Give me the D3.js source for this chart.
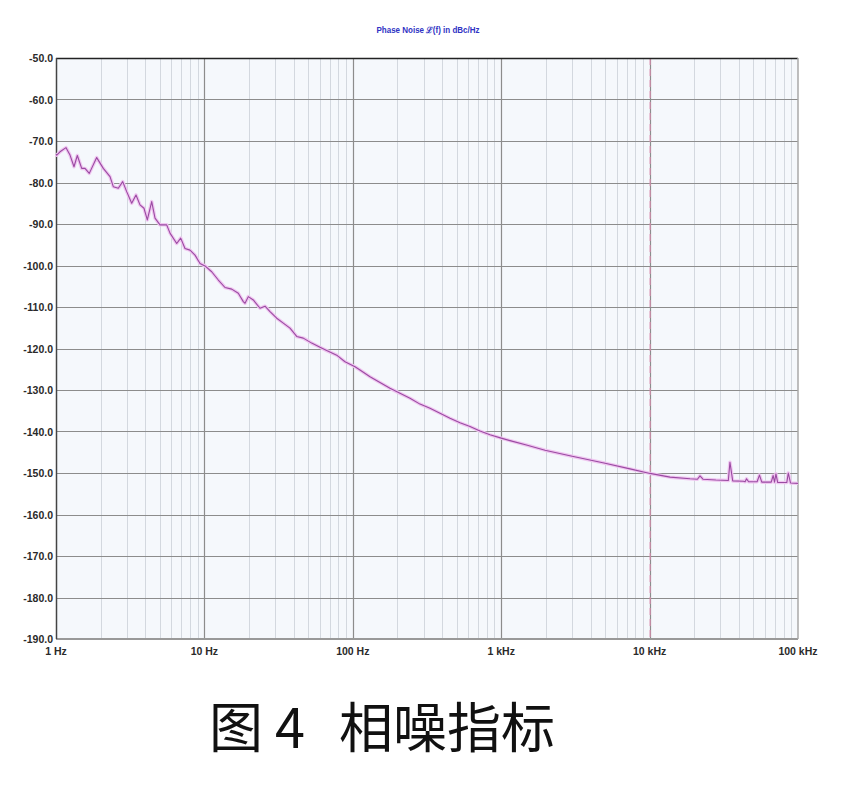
<!DOCTYPE html>
<html lang="zh">
<head>
    <meta charset="UTF-8">
    <title>相噪指标</title>
    <style>
        body {
            margin: 0;
            background-color: #fff;
        }
        svg {
            display: block;
        }
        .tick-y, .tick-x {
            font-family: "Liberation Sans Narrow", "Liberation Sans", Arial, sans-serif;
            font-size: 10.5px;
            font-weight: bold;
            fill: #2a2a2a;
        }
        .caption {
            font-family: "Noto Sans CJK SC", sans-serif;
            font-size: 54px;
            fill: #111;
        }
    </style>
</head>
<body>

<script src="https://d3js.org/d3.v7.min.js"></script>

<script>
    // offset frequency (Hz) and single sideband phase noise (dBc/Hz)
    var freqHz = [
        1.00, 1.011, 1.064, 1.168, 1.243, 1.322, 1.392, 1.490, 1.568, 1.676,
        1.880, 2.083, 2.312, 2.433, 2.630, 2.815, 2.995, 3.237, 3.460, 3.681,
        3.917, 4.124, 4.415, 4.647, 5.022, 5.57, 5.865, 6.507, 6.923, 7.401,
        7.998, 8.645, 9.342, 10.09, 11.20, 12.41, 13.77, 15.28, 16.92, 18.29,
        18.78, 19.76, 21.36, 23.70, 25.61, 27.68, 30.71, 34.01, 37.74, 41.88,
        46.39, 52.84, 60.12, 66.71, 77.89, 88.6, 103.5, 111.8, 130.6, 152.5,
        178.1, 208.0, 242.9, 283.7, 331.3, 386.9, 451.9, 527.8, 616.4, 719.6,
        840.5, 1000, 1146, 1500, 1973, 2954, 4928, 7378, 10060, 13728,
        18720, 21000, 21860, 22890, 28000, 33920, 34790, 36310, 42800, 44000,
        45000, 46500, 53000, 55000, 57000, 66000, 68000, 69500, 71000, 73000,
        84000, 86000, 89000, 100000
    ];

    var noiseDb = [
        -73.2, -73.4, -72.6, -71.6, -73.4, -76.2, -73.5, -76.6, -76.6, -77.8,
        -74.0, -76.6, -78.6, -81.0, -81.4, -79.8, -82.2, -85.0, -83.0, -85.4,
        -86.2, -89.0, -84.6, -88.6, -90.2, -90.2, -92.2, -94.7, -93.4, -95.9,
        -96.3, -97.5, -99.5, -100.1, -101.5, -103.5, -105.3, -105.7, -106.7, -108.7,
        -109.1, -107.5, -108.3, -110.3, -109.8, -111.1, -112.7, -113.9, -115.1, -117.1,
        -117.5, -118.7, -119.7, -120.5, -121.6, -123.2, -124.4, -125.2, -126.8, -128.2,
        -129.6, -130.8, -132.0, -133.4, -134.4, -135.6, -136.8, -137.9, -138.8, -139.9,
        -140.8, -141.6, -142.2, -143.3, -144.5, -145.9, -147.6, -149.0, -150.1, -151.0,
        -151.4, -151.5, -150.7, -151.5, -151.7, -151.8, -147.4, -151.9, -152.0, -152.1,
        -151.4, -152.1, -152.1, -150.5, -152.2, -152.2, -150.6, -152.2, -150.2, -152.3,
        -152.3, -150.0, -152.4, -152.5
    ];

    var yTicks = [-50, -60, -70, -80, -90, -100, -110, -120, -130, -140, -150, -160, -170, -180, -190];
    var xTicks = [1, 10, 100, 1000, 10000, 100000];
    var xTickLabels = ["1 Hz", "10 Hz", "100 Hz", "1 kHz", "10 kHz", "100 kHz"];
    var markerHz = 10000;

    var W = 863, H = 799;
    var pLeft = 56, pRight = 798, pTop = 58, pBottom = 639;

    var svg = d3.select("body")
        .append("svg")
        .attr("width", W)
        .attr("height", H);

    svg.append("rect")
        .attr("width", W)
        .attr("height", H)
        .attr("fill", "#fff");

    var x = d3.scaleLog()
        .domain([1, 100000])
        .range([pLeft, pRight]);

    var y = d3.scaleLinear()
        .domain([-50, -190])
        .range([pTop, pBottom]);

    // plot background
    svg.append("rect")
        .attr("x", pLeft)
        .attr("y", pTop)
        .attr("width", pRight - pLeft)
        .attr("height", pBottom - pTop)
        .attr("fill", "#f5f8fc");

    // minor vertical grid (2..9 in every decade)
    var minor = [];
    xTicks.slice(0, -1).forEach(function (d) {
        for (var k = 2; k < 10; k++) minor.push(d * k);
    });

    svg.append("g").selectAll("line")
        .data(minor)
        .enter()
        .append("line")
        .attr("x1", function (d) { return Math.round(x(d)) + 0.5; })
        .attr("x2", function (d) { return Math.round(x(d)) + 0.5; })
        .attr("y1", pTop)
        .attr("y2", pBottom)
        .attr("stroke", "#d3d8df")
        .attr("stroke-width", 1);

    // major horizontal grid
    svg.append("g").selectAll("line")
        .data(yTicks.slice(1, -1))
        .enter()
        .append("line")
        .attr("x1", pLeft)
        .attr("x2", pRight)
        .attr("y1", function (d) { return Math.round(y(d)) + 0.5; })
        .attr("y2", function (d) { return Math.round(y(d)) + 0.5; })
        .attr("stroke", "#8c8c8c")
        .attr("stroke-width", 1.2);

    // major vertical grid
    svg.append("g").selectAll("line")
        .data(xTicks.slice(1, -1))
        .enter()
        .append("line")
        .attr("x1", function (d) { return Math.round(x(d)) + 0.5; })
        .attr("x2", function (d) { return Math.round(x(d)) + 0.5; })
        .attr("y1", pTop)
        .attr("y2", pBottom)
        .attr("stroke", "#8c8c8c")
        .attr("stroke-width", 1.2);

    // dashed marker at 10 kHz
    svg.append("line")
        .attr("x1", x(markerHz) + 0.5)
        .attr("x2", x(markerHz) + 0.5)
        .attr("y1", pTop)
        .attr("y2", pBottom)
        .attr("stroke", "#e58bb3")
        .attr("stroke-width", 1)
        .attr("stroke-dasharray", "7,4");

    // frame
    svg.append("line")
        .attr("x1", pLeft).attr("x2", pRight)
        .attr("y1", pTop + 0.5).attr("y2", pTop + 0.5)
        .attr("stroke", "#222").attr("stroke-width", 1.5);
    svg.append("line")
        .attr("x1", pLeft).attr("x2", pRight)
        .attr("y1", pBottom).attr("y2", pBottom)
        .attr("stroke", "#999").attr("stroke-width", 2);
    svg.append("line")
        .attr("x1", pLeft + 0.5).attr("x2", pLeft + 0.5)
        .attr("y1", pTop).attr("y2", pBottom)
        .attr("stroke", "#444").attr("stroke-width", 1.5);
    svg.append("line")
        .attr("x1", pRight).attr("x2", pRight)
        .attr("y1", pTop).attr("y2", pBottom)
        .attr("stroke", "#a8a8a8").attr("stroke-width", 1.5);

    // phase noise trace
    var pts = freqHz.map(function (f, i) { return [f, noiseDb[i]]; });
    var line = d3.line()
        .x(function (d) { return x(d[0]); })
        .y(function (d) { return y(d[1]); });

    svg.append("path")
        .datum(pts)
        .attr("d", line)
        .attr("fill", "none")
        .attr("stroke", "#efc6f0")
        .attr("stroke-width", 3.5)
        .attr("stroke-linejoin", "round");

    svg.append("path")
        .datum(pts)
        .attr("d", line)
        .attr("fill", "none")
        .attr("stroke", "#9a4aa2")
        .attr("stroke-width", 1.1)
        .attr("stroke-linejoin", "round");

    // y tick labels
    svg.append("g").selectAll("text")
        .data(yTicks)
        .enter()
        .append("text")
        .attr("class", "tick-y")
        .attr("x", pLeft - 3)
        .attr("y", function (d) { return y(d) + 4; })
        .attr("text-anchor", "end")
        .text(function (d) { return d.toFixed(1); });

    // x tick labels
    svg.append("g").selectAll("text")
        .data(xTicks)
        .enter()
        .append("text")
        .attr("class", "tick-x")
        .attr("x", function (d) { return x(d); })
        .attr("y", pBottom + 16)
        .attr("text-anchor", "middle")
        .text(function (d, i) { return xTickLabels[i]; });

    // title
    svg.append("text")
        .attr("x", 428)
        .attr("y", 33)
        .attr("text-anchor", "middle")
        .attr("font-family", "Liberation Sans, Arial, sans-serif")
        .attr("font-size", 8.5)
        .attr("font-weight", "bold")
        .attr("fill", "#2f33c4")
        .attr("textLength", 103)
        .attr("lengthAdjust", "spacingAndGlyphs")
        .text("Phase Noise \u2112(f) in dBc/Hz");

    // caption
    svg.append("text").attr("class", "caption").attr("x", 209).attr("y", 748).text("图");
    svg.append("text").attr("class", "caption").attr("x", 275).attr("y", 748).text("4");
    svg.append("text").attr("class", "caption").attr("x", 339).attr("y", 748).text("相噪指标");
</script>

</body>
</html>
